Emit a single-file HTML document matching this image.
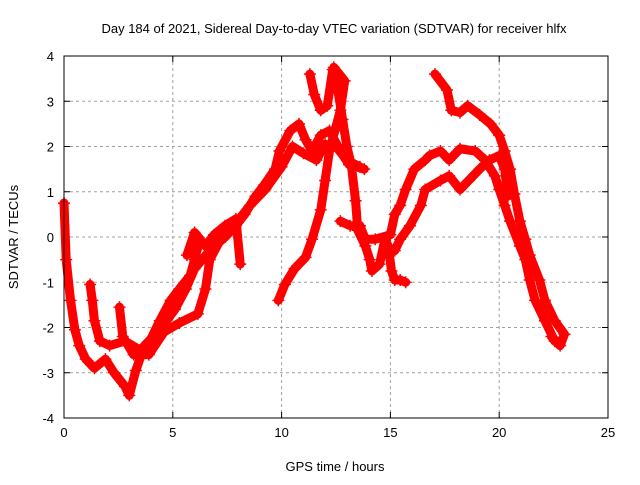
<!DOCTYPE html>
<html><head><meta charset="utf-8"><style>
body{margin:0;background:#fff}
svg text{font-family:"Liberation Sans",sans-serif;font-size:13px;fill:#000}
</style></head><body>
<svg id="chart" width="640" height="480" xmlns="http://www.w3.org/2000/svg">
<rect width="640" height="480" fill="#fff"/>
<text x="334" y="33" text-anchor="middle">Day 184 of 2021, Sidereal Day-to-day VTEC variation (SDTVAR) for receiver hlfx</text>
<text transform="translate(18,237) rotate(-90)" text-anchor="middle">SDTVAR / TECUs</text>
<text x="335" y="471" text-anchor="middle">GPS time / hours</text>
<g id="grid"></g><g id="ticks"></g><g id="marks"></g>
<rect x="64" y="56" width="544" height="362" fill="none" stroke="#000" stroke-width="1"/>
</svg>
<script>
const xTicks=[0,5,10,15,20,25];
const yTicks=[-4,-3,-2,-1,0,1,2,3,4];
const arcA=[[0,0.75],[0.1,-0.5],[0.3,-1.4],[0.5,-2.05],[0.7,-2.4],[1,-2.7],[1.4,-2.9],[1.9,-2.7],[2.3,-3.0],[2.8,-3.3],[3,-3.5],[3.3,-2.95],[3.7,-2.4],[4.4,-2.05],[5.1,-1.6],[5.6,-1.15],[6.0,-0.7],[6.7,-0.3],[7.4,0],[7.9,0.25],[8.3,0.5],[8.8,0.9],[9.2,1.15],[9.7,1.5],[9.9,1.9],[10.4,2.35],[10.8,2.5],[11.1,2.15],[11.4,1.9],[11.8,2.25],[12.2,2.35],[12.7,1.9],[13.1,1.6],[13.8,1.5]];
const arcB=[[1.2,-1.05],[1.3,-1.4],[1.4,-1.85],[1.65,-2.3],[2.1,-2.4],[2.8,-2.3],[3.5,-2.5],[3.95,-2.3],[4.4,-1.85],[4.9,-1.4],[5.3,-1.15],[5.8,-0.85],[6.0,-0.5],[6.25,-0.05]];
const arcC=[[5.65,-0.4],[6.0,0.1],[6.5,-0.2],[6.9,0.05],[7.4,0.25],[7.9,0.4],[8.1,-0.6]];
const arcD=[[2.55,-1.55],[2.7,-2.2],[3.2,-2.6],[3.9,-2.6],[4.6,-2.1],[5.3,-1.9],[6.15,-1.7],[6.5,-1.15],[6.7,-0.5],[7.2,-0.05],[7.9,0.3],[8.55,0.7],[9.25,1.05],[10.0,1.55],[10.5,2.0],[11.0,1.85],[11.6,1.7],[12.0,2.05],[12.5,2.0],[13.0,1.7],[13.6,1.55]];
const arcE=[[9.85,-1.4],[10.15,-1.05],[10.6,-0.7],[11.1,-0.45],[11.4,-0.05],[11.8,0.6],[12.0,1.25],[12.2,1.9],[12.45,2.35],[12.7,2.8],[12.9,3.45],[12.4,3.75]];
const arcF=[[11.3,3.6],[11.5,3.15],[11.8,2.8],[12.1,2.9],[12.35,3.7],[12.6,3.2],[12.8,2.6],[13.0,2.0],[13.2,1.6],[13.4,0.8],[13.5,0.15],[13.85,-0.2],[14.05,-0.5],[14.15,-0.75],[14.5,-0.6],[14.75,-0.05],[14.9,-0.2],[15.05,-0.75],[15.2,-0.95],[15.45,-0.95],[15.7,-1.0]];
const arcG=[[12.7,0.35],[13.15,0.25],[13.6,0.25],[13.85,-0.05],[14.3,-0.05],[15,0.05],[15.2,0.5],[15.45,0.7],[15.7,1.05],[16.1,1.5],[16.6,1.7],[16.8,1.8],[17.3,1.9],[17.7,1.7],[18.2,1.95],[18.9,1.9],[19.35,1.7],[19.8,1.35],[20.0,1.05],[20.25,0.7],[20.5,0.35],[20.95,-0.2],[21.2,-0.5],[21.4,-0.95],[21.65,-1.4],[22.1,-1.85],[22.55,-2.3],[22.8,-2.3]];
const arcH=[[17.05,3.6],[17.6,3.25],[17.8,2.8],[18.2,2.75],[18.55,2.9],[19.1,2.7],[19.6,2.5],[20.0,2.25],[20.25,1.9],[20.5,1.5],[20.7,0.95],[20.95,0.35],[21.2,-0.05],[21.4,-0.4],[21.85,-0.95],[22.1,-1.4],[22.55,-1.85],[23.0,-2.15],[22.8,-2.4],[22.4,-2.2]];
const arcI=[[15.2,-0.3],[15.45,-0.05],[15.9,0.25],[16.4,0.7],[16.6,1.05],[17.3,1.25],[17.7,1.35],[18.2,1.05],[18.6,1.25],[19.1,1.5],[19.55,1.7],[20.0,1.8],[20.25,1.5],[20.4,0.9]];
const arcs=[arcA,arcB,arcC,arcD,arcE,arcF,arcG,arcH,arcI];
const NS="http://www.w3.org/2000/svg";
const X=v=>64+(v-0)*(544/25);
const Y=v=>237-v*(362/8);
function mk(t,a,p){const e=document.createElementNS(NS,t);for(const k in a)e.setAttribute(k,a[k]);p.appendChild(e);return e;}
const grid=document.getElementById('grid'),ticks=document.getElementById('ticks'),marks=document.getElementById('marks');
xTicks.forEach(t=>{const x=X(t);
 if(t>0&&t<25){const g=mk('line',{x1:x,y1:56,x2:x,y2:418,stroke:'#a0a0a0','stroke-dasharray':'3,3'},grid);
 
 }
 mk('line',{x1:x,y1:418,x2:x,y2:412,stroke:'#000'},ticks);mk('line',{x1:x,y1:56,x2:x,y2:62,stroke:'#000'},ticks);
 const l=mk('text',{x:x,y:437,'text-anchor':'middle'},ticks);l.textContent=t;
 
 });
yTicks.forEach(t=>{const y=Y(t);
 if(t>-4&&t<4){const g=mk('line',{x1:64,y1:y,x2:608,y2:y,stroke:'#a0a0a0','stroke-dasharray':'3,3'},grid);
 
 }
 mk('line',{x1:64,y1:y,x2:70,y2:y,stroke:'#000'},ticks);mk('line',{x1:608,y1:y,x2:602,y2:y,stroke:'#000'},ticks);
 const l=mk('text',{x:54,y:y+5,'text-anchor':'end'},ticks);l.textContent=t;
 
 });
arcs.forEach((arc,i)=>{
 const pl=mk('polyline',{points:arc.map(p=>X(p[0])+','+Y(p[1])).join(' '),fill:'none',stroke:'#f00','stroke-width':9,'stroke-linejoin':'round','stroke-linecap':'round'},marks);
 
 
 arc.forEach(p=>{const x=X(p[0]),y=Y(p[1]);
  const m=mk('path',{d:`M${x-6},${y}H${x+6}M${x},${y-6}V${y+6}`,stroke:'#f00','stroke-width':1.5},marks);
  
  });
});
</script>
</body></html>
